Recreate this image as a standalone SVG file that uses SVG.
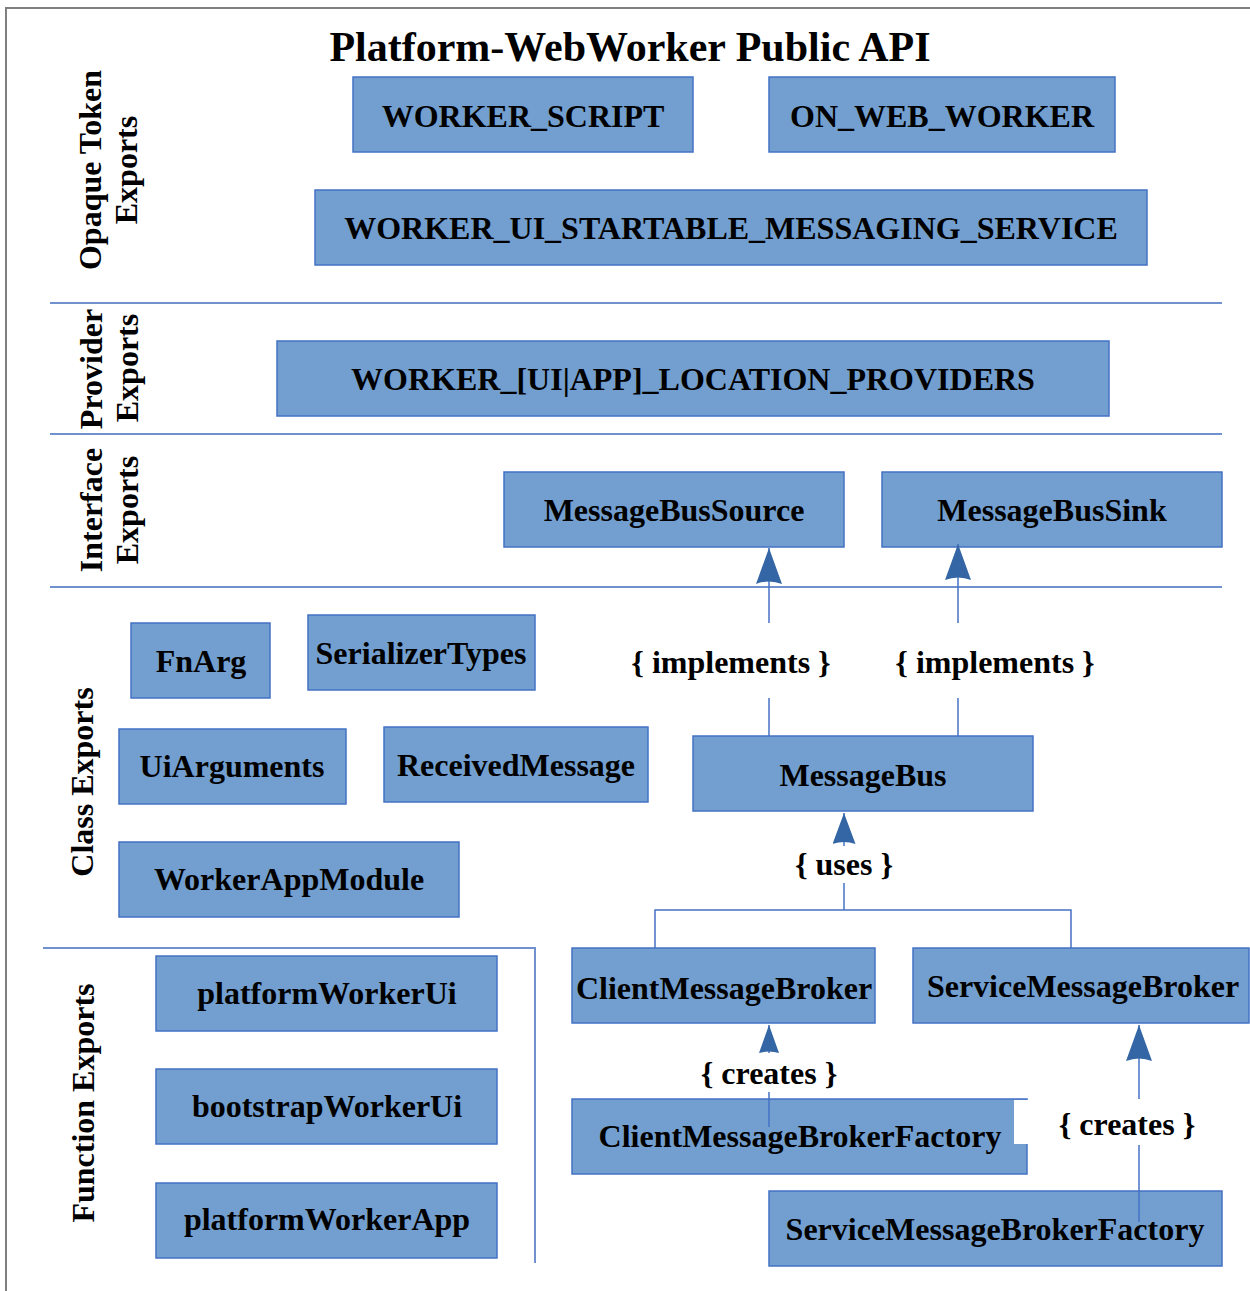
<svg xmlns="http://www.w3.org/2000/svg" width="1250" height="1291" viewBox="0 0 1250 1291">
  <style>
    .box { fill: #729fcf; stroke: #4472c4; stroke-width: 1.5; }
    .t { font-family: "Liberation Serif", "Times New Roman", serif; font-weight: bold; font-size: 32px; fill: #000; text-anchor: middle; }
    .title { font-size: 42px; }
    .sec { stroke: #6f92cf; stroke-width: 2; fill: none; }
    .conn { stroke: #4472c4; stroke-width: 1.5; fill: none; }
    .lbl-bg { fill: #fff; }
  </style>
  <defs>
    <marker id="arrowL" markerUnits="userSpaceOnUse" markerWidth="37" markerHeight="26" refX="36" refY="13" orient="auto" viewBox="0 0 37 26">
      <path d="M0,0 L36,13 L0,26 Q5,13 0,0 Z" fill="#3465a4"/>
    </marker>
    <marker id="arrowS" markerUnits="userSpaceOnUse" markerWidth="32" markerHeight="23" refX="31" refY="11.5" orient="auto" viewBox="0 0 32 23">
      <path d="M0,0 L31,11.5 L0,23 Q4,11.5 0,0 Z" fill="#3465a4"/>
    </marker>
    <marker id="arrowXS" markerUnits="userSpaceOnUse" markerWidth="29" markerHeight="20" refX="28" refY="10" orient="auto" viewBox="0 0 29 20">
      <path d="M0,0 L28,10 L0,20 Q3,10 0,0 Z" fill="#3465a4"/>
    </marker>
  </defs>

  <rect x="0" y="0" width="1250" height="1291" fill="#fff"/>
  <path d="M6,1291 V8 H1250" stroke="#7f7f7f" stroke-width="2" fill="none"/>

  <text class="t title" x="630" y="61">Platform-WebWorker Public API</text>

  <g id="sections">
    <line class="sec" x1="50" y1="303" x2="1222" y2="303"/>
    <line class="sec" x1="50" y1="434" x2="1222" y2="434"/>
    <line class="sec" x1="50" y1="587" x2="1222" y2="587"/>
    <path class="sec" d="M43,948 H535 V1263"/>
    <text class="t" transform="translate(101,170) rotate(-90)">Opaque Token</text>
    <text class="t" transform="translate(137,170) rotate(-90)">Exports</text>
    <text class="t" transform="translate(102,369) rotate(-90)">Provider</text>
    <text class="t" transform="translate(138,368) rotate(-90)">Exports</text>
    <text class="t" transform="translate(102,510) rotate(-90)">Interface</text>
    <text class="t" transform="translate(138,510) rotate(-90)">Exports</text>
    <text class="t" transform="translate(93,782) rotate(-90)">Class Exports</text>
    <text class="t" transform="translate(94,1103) rotate(-90)">Function Exports</text>
  </g>

  <g id="node-worker-script"><rect class="box" x="353" y="77" width="340" height="75"/><text class="t" x="523" y="127">WORKER_SCRIPT</text></g>
  <g id="node-on-web-worker"><rect class="box" x="769" y="77" width="346" height="75"/><text class="t" x="942" y="127">ON_WEB_WORKER</text></g>
  <g id="node-worker-ui-startable"><rect class="box" x="315" y="190" width="832" height="75"/><text class="t" x="731" y="239">WORKER_UI_STARTABLE_MESSAGING_SERVICE</text></g>
  <g id="node-location-providers"><rect class="box" x="277" y="341" width="832" height="75"/><text class="t" x="693" y="390">WORKER_[UI|APP]_LOCATION_PROVIDERS</text></g>
  <g id="node-messagebussource"><rect class="box" x="504" y="472" width="340" height="75"/><text class="t" x="674" y="521">MessageBusSource</text></g>
  <g id="node-messagebussink"><rect class="box" x="882" y="472" width="340" height="75"/><text class="t" x="1052" y="521">MessageBusSink</text></g>
  <g id="node-fnarg"><rect class="box" x="131" y="623" width="139" height="75"/><text class="t" x="201" y="672">FnArg</text></g>
  <g id="node-serializertypes"><rect class="box" x="308" y="615" width="227" height="75"/><text class="t" x="421" y="664">SerializerTypes</text></g>
  <g id="node-uiarguments"><rect class="box" x="119" y="729" width="227" height="75"/><text class="t" x="232" y="777">UiArguments</text></g>
  <g id="node-receivedmessage"><rect class="box" x="384" y="727" width="264" height="75"/><text class="t" x="516" y="776">ReceivedMessage</text></g>
  <g id="node-messagebus"><rect class="box" x="693" y="736" width="340" height="75"/><text class="t" x="863" y="786">MessageBus</text></g>
  <g id="node-workerappmodule"><rect class="box" x="119" y="842" width="340" height="75"/><text class="t" x="289" y="890">WorkerAppModule</text></g>
  <g id="node-platformworkerui"><rect class="box" x="156" y="956" width="341" height="75"/><text class="t" x="327" y="1004">platformWorkerUi</text></g>
  <g id="node-bootstrapworkerui"><rect class="box" x="156" y="1069" width="341" height="75"/><text class="t" x="327" y="1117">bootstrapWorkerUi</text></g>
  <g id="node-platformworkerapp"><rect class="box" x="156" y="1183" width="341" height="75"/><text class="t" x="327" y="1230">platformWorkerApp</text></g>
  <g id="node-clientmessagebroker"><rect class="box" x="572" y="948" width="303" height="75"/><text class="t" x="724" y="999">ClientMessageBroker</text></g>
  <g id="node-servicemessagebroker"><rect class="box" x="913" y="948" width="336" height="75"/><text class="t" x="1083" y="997">ServiceMessageBroker</text></g>
  <g id="node-clientmessagebrokerfactory"><rect class="box" x="572" y="1099" width="455" height="75"/><text class="t" x="800" y="1147">ClientMessageBrokerFactory</text></g>
  <g id="node-servicemessagebrokerfactory"><rect class="box" x="769" y="1191" width="453" height="75"/><text class="t" x="995" y="1240">ServiceMessageBrokerFactory</text></g>

  <g id="connectors">
    <!-- MessageBus implements MessageBusSource -->
    <line class="conn" x1="769" y1="736" x2="769" y2="698"/>
    <line class="conn" x1="769" y1="623" x2="769" y2="548" marker-end="url(#arrowL)"/>
    <text class="t" x="731" y="673">{ implements }</text>
    <!-- MessageBus implements MessageBusSink -->
    <line class="conn" x1="958" y1="736" x2="958" y2="698"/>
    <line class="conn" x1="958" y1="623" x2="958" y2="544" marker-end="url(#arrowL)"/>
    <text class="t" x="995" y="673">{ implements }</text>
    <!-- brokers use MessageBus -->
    <path class="conn" d="M655,948 V910 H1071 V948"/>
    <line class="conn" x1="844" y1="910" x2="844" y2="883"/>
    <line class="conn" x1="844" y1="846" x2="844" y2="813" marker-end="url(#arrowS)"/>
    <text class="t" x="844" y="875">{ uses }</text>
    <!-- ClientMessageBrokerFactory creates ClientMessageBroker -->
    <line class="conn" x1="769" y1="1127" x2="769" y2="1092"/>
    <line class="conn" x1="769" y1="1053" x2="769" y2="1025" marker-end="url(#arrowXS)"/>
    <text class="t" x="769" y="1084">{ creates }</text>
    <!-- ServiceMessageBrokerFactory creates ServiceMessageBroker -->
    <rect class="lbl-bg" x="1014" y="1100" width="14" height="44"/>
    <line class="conn" x1="1139" y1="1222" x2="1139" y2="1145"/>
    <line class="conn" x1="1139" y1="1099" x2="1139" y2="1025" marker-end="url(#arrowL)"/>
    <text class="t" x="1127" y="1135">{ creates }</text>
  </g>
</svg>
